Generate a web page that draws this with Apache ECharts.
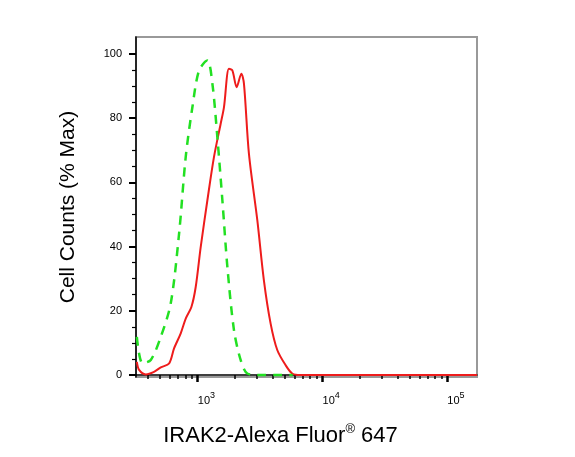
<!DOCTYPE html>
<html><head><meta charset="utf-8">
<script src="https://cdn.jsdelivr.net/npm/echarts@6/dist/echarts.min.js"></script>
<style>html,body{margin:0;padding:0;background:#fff}#c{width:575px;height:457px}</style>
</head><body><div id="c"></div>
<script>
const greenX = [327,363,423,509,612,713,806,912,1030,1202,1318,1445,1585,1738,1963,2220,2512,3206,4500,5800];
const greenY = [11.9,3.7,4.7,11.9,22.4,44,67.9,83.4,94.8,97.9,90.7,74,54.4,33.7,14,4.7,0.5,0,0,0];
const redX = [327,341,386,449,509,593,650,735,806,895,969,1063,1202,1358,1536,1633,1789,1905,2063,2249,2360,2587,3020,3410,3858,4365,5087,5754,6706,10000,174000];
const redY = [4.1,1.6,0.2,1,2.4,3.6,8.3,13,17.6,21.2,27.4,39.9,54.4,67.9,78.2,83.4,95.3,94.8,89.6,93.8,90.7,68.9,48.2,29.5,16.1,7.8,3.1,0.5,0,0,0];
const xMajor = [1000,10000,100000];
const xMinor = [400,500,600,700,800,900,2000,3000,4000,5000,6000,7000,8000,9000,20000,30000,40000,50000,60000,70000,80000,90000];
const yMajor = [0,20,40,60,80,100];
const yMinor = [5,10,15,25,30,35,45,50,55,65,70,75,85,90,95];

const chart = echarts.init(document.getElementById('c'));
const font = 'Liberation Sans, Arial, sans-serif';
const pair = (xs, ys) => xs.map((x, i) => [x, ys[i]]);
const xBase = {type:'log', logBase:10, min:322, max:174000, splitLine:{show:false}};
const yBase = {type:'value', min:-0.6, max:105.2, splitLine:{show:false}};
chart.setOption({
  animation:false,
  grid:{left:136,right:98,top:37,bottom:80,show:true,borderColor:'#999',borderWidth:2},
  xAxis:[
    Object.assign({}, xBase, {
      position:'bottom',
      name:'IRAK2-Alexa Fluor{r|®} 647', nameLocation:'middle', nameGap:46,
      nameTextStyle:{fontFamily:font,fontSize:22,color:'#000',padding:[0,52,0,0],rich:{r:{fontSize:13,padding:[0,0,12,0],fontFamily:font}}},
      axisLine:{show:true,lineStyle:{color:'#000',width:1.5}},
      axisTick:{show:true,customValues:xMajor,length:7,lineStyle:{color:'#000',width:2.5}},
      axisLabel:{customValues:xMajor,margin:14,padding:[0,0,0,18],formatter:v=>'{b|10}{s|'+Math.round(Math.log10(v))+'}',
        rich:{b:{fontSize:11,fontFamily:font,color:'#000'},s:{fontSize:9,fontFamily:font,color:'#000',padding:[0,0,10,0]}}}
    }),
    Object.assign({}, xBase, {
      position:'bottom',
      axisLine:{show:false},
      axisTick:{show:true,customValues:xMinor,length:4,lineStyle:{color:'#000',width:1.5}},
      axisLabel:{show:false}
    })
  ],
  yAxis:[
    Object.assign({}, yBase, {
      name:'Cell Counts (% Max)', nameLocation:'middle', nameGap:57,
      nameTextStyle:{fontFamily:font,fontSize:21,color:'#000',padding:[16,0,0,0]},
      axisLine:{show:true,lineStyle:{color:'#000',width:1.5}},
      axisTick:{show:true,customValues:yMajor,length:7,lineStyle:{color:'#000',width:2}},
      axisLabel:{customValues:yMajor,margin:14,fontSize:11,fontFamily:font,color:'#000'}
    }),
    Object.assign({}, yBase, {
      position:'left',
      axisLine:{show:false},
      axisTick:{show:true,customValues:yMinor,length:4,lineStyle:{color:'#000',width:1.2}},
      axisLabel:{show:false}
    })
  ],
  series:[
    {type:'line',data:pair(redX,redY),showSymbol:false,smooth:0.3,clip:true,
     lineStyle:{color:'#ee1c1c',width:2}},
    {type:'line',data:pair(greenX,greenY),showSymbol:false,smooth:0.3,clip:true,
     lineStyle:{color:'#22e022',width:2.5,type:[9,7]}}
  ]
});
</script></body></html>
